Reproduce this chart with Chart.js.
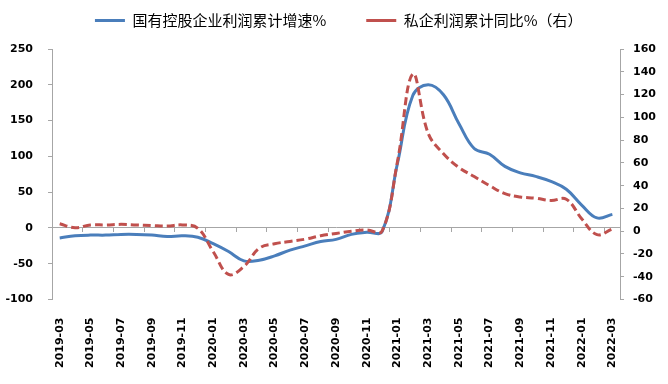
<!DOCTYPE html>
<html><head><meta charset="utf-8">
<script src="https://cdn.jsdelivr.net/npm/chart.js@4"></script>
<style>html,body{margin:0;padding:0;background:#fff}#wrap{width:668px;height:384px;position:relative}</style>
</head><body><div id="wrap"><canvas id="c" width="668" height="384"></canvas></div>
<script>
const months = ['2019-03','2019-04','2019-05','2019-06','2019-07','2019-08','2019-09','2019-10','2019-11','2019-12',
  '2020-01','2020-02','2020-03','2020-04','2020-05','2020-06','2020-07','2020-08','2020-09','2020-10','2020-11','2020-12',
  '2021-01','2021-02','2021-03','2021-04','2021-05','2021-06','2021-07','2021-08','2021-09','2021-10','2021-11','2021-12',
  '2022-01','2022-02','2022-03'];
const soeProfitGrowth = [-14,-11,-10,-10,-9,-9,-10,-12,-11,-13,
  -22,-33,-46,-45,-39,-31,-25,-19,-16,-9,-6,-5,
  90,185,200,186,146,111,103,86,77,72,65,54,
  32,14,19];
const privateProfitYoY = [6.5,3,5.5,5.5,6,5.5,5,4.5,5.5,2.5,
  -18,-38,-31,-15,-11,-9,-7,-4,-2,0,1,0,
  61,138,86,68,56,48,40,33,30,29,27,28,
  11,-3,2];
const leftTicks = [-100,-50,0,50,100,150,200,250];
const rightTicks = [-60,-40,-20,0,20,40,60,80,100,120,140,160];
const seriesNames = ['国有控股企业利润累计增速%','私企利润累计同比%（右）'];

const axisGray = '#a6a6a6';
const tickFont = {family:'DejaVu Sans', size:11, weight:'bold'};

const legendTweak = {
  id:'legendTweak',
  beforeLayout(chart){
    const lg = chart.legend;
    if (lg && !lg._patched){
      const origFit = lg.fit;
      lg.fit = function(){ origFit.call(this); this.height += 11; };
      const origDraw = lg.draw;
      lg.draw = function(){
        const ctx = this.ctx;
        ctx.save(); ctx.translate(11, 0);
        origDraw.call(this);
        ctx.restore();
      };
      lg._patched = true;
    }
  }
};

new Chart(document.getElementById('c'), {
  type:'line',
  data:{
    labels: months,
    datasets:[
      {label:seriesNames[0], data:soeProfitGrowth, xAxisID:'x', yAxisID:'y',
       borderColor:'#4a7ebb', backgroundColor:'#4a7ebb', borderWidth:3, pointRadius:0, tension:0.4, order:1},
      {label:seriesNames[1], data:privateProfitYoY, xAxisID:'x', yAxisID:'y1',
       borderColor:'#c0504d', backgroundColor:'#c0504d', borderWidth:3, borderDash:[8,4], pointRadius:0, tension:0.4, order:0}
    ]
  },
  options:{
    responsive:false, animation:false, devicePixelRatio:1,
    layout:{padding:{left:-9.5,right:3,top:-27,bottom:6}},
    plugins:{
      tooltip:{enabled:false},
      legend:{
        position:'top',
        labels:{
          usePointStyle:true, pointStyle:'line', pointStyleWidth:30,
          padding:40, color:'#000',
          font:{family:'"Noto Sans CJK SC"', size:15},
          sort:(a,b)=>a.datasetIndex-b.datasetIndex
        }
      }
    },
    scales:{
      x:{type:'category', position:'bottom', offset:true,
         grid:{display:false}, border:{display:false},
         ticks:{autoSkip:false, maxRotation:90, minRotation:90, padding:10, color:'#000', font:tickFont,
                callback:function(v,i){ return i%2===0 ? this.getLabelForValue(v) : ''; }}},
      x2:{type:'category', position:{y:0}, offset:true,
          grid:{offset:true, drawOnChartArea:false, drawTicks:true, tickLength:4,
                color:(ctx)=> (ctx.index!==undefined && ctx.index%2===0) ? axisGray : 'rgba(0,0,0,0)'},
          ticks:{display:false}, border:{display:false}},
      y:{position:'left', min:leftTicks[0], max:leftTicks[leftTicks.length-1],
         afterBuildTicks:(s)=>{ s.ticks = leftTicks.map(v=>({value:v})); },
         ticks:{padding:15, color:'#000', font:tickFont},
         grid:{drawOnChartArea:true, tickLength:4, tickColor:axisGray,
               color:(ctx)=> (ctx.tick && ctx.tick.value===0) ? axisGray : 'rgba(0,0,0,0)'},
         border:{color:axisGray}},
      y1:{position:'right', min:rightTicks[0], max:rightTicks[rightTicks.length-1],
         afterBuildTicks:(s)=>{ s.ticks = rightTicks.map(v=>({value:v})); },
         ticks:{padding:9, color:'#000', font:tickFont},
         grid:{drawOnChartArea:false, tickLength:4, color:axisGray},
         border:{color:axisGray}}
    }
  },
  plugins:[legendTweak]
});
</script>
</body></html>
